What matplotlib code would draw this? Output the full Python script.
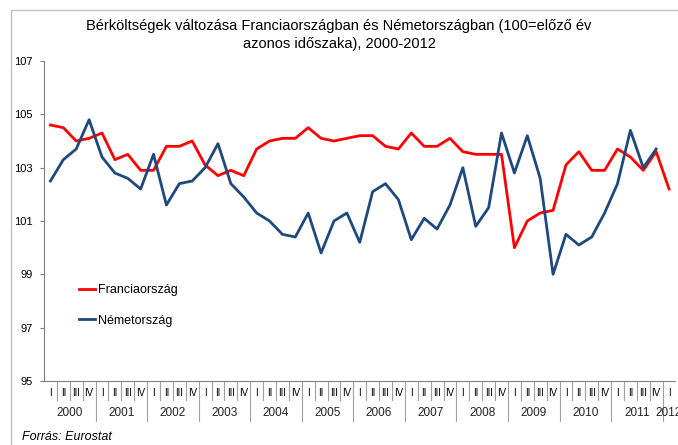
import matplotlib.pyplot as plt
from matplotlib.patches import Rectangle

# quarterly data, 2000 Q1 - 2012 Q1
years = ['2000', '2001', '2002', '2003', '2004', '2005', '2006',
         '2007', '2008', '2009', '2010', '2011', '2012']
quarters = ['I', 'II', 'III', 'IV']

france = [104.6, 104.5, 104.0, 104.1, 104.3, 103.3, 103.5, 102.9,
          102.9, 103.8, 103.8, 104.0, 103.1, 102.7, 102.9, 102.7,
          103.7, 104.0, 104.1, 104.1, 104.5, 104.1, 104.0, 104.1,
          104.2, 104.2, 103.8, 103.7, 104.3, 103.8, 103.8, 104.1,
          103.6, 103.5, 103.5, 103.5, 100.0, 101.0, 101.3, 101.4,
          103.1, 103.6, 102.9, 102.9, 103.7, 103.4, 102.9, 103.6,
          102.2]
germany = [102.5, 103.3, 103.7, 104.8, 103.4, 102.8, 102.6, 102.2,
           103.5, 101.6, 102.4, 102.5, 103.0, 103.9, 102.4, 101.9,
           101.3, 101.0, 100.5, 100.4, 101.3, 99.8, 101.0, 101.3,
           100.2, 102.1, 102.4, 101.8, 100.3, 101.1, 100.7, 101.6,
           103.0, 100.8, 101.5, 104.3, 102.8, 104.2, 102.6, 99.0,
           100.5, 100.1, 100.4, 101.3, 102.4, 104.4, 103.0, 103.7]

labels_q = []
for y in years:
    n = 1 if y == '2012' else 4
    labels_q += quarters[:n]
n = len(labels_q)

plt.rcParams['font.family'] = 'Liberation Sans'

fig = plt.figure(figsize=(6.78, 4.45), dpi=100)
ax = fig.add_axes([44 / 678, 1 - 381 / 445, 631.5 / 678, 320 / 445])

ax.plot(range(len(france)), france, color='#FF0000', lw=2.0, label='Franciaország')
ax.plot(range(len(germany)), germany, color='#1F497D', lw=2.0, label='Németország')

ax.set_xlim(-0.5, n - 0.5)
ax.set_ylim(95, 107)
ax.set_yticks(range(95, 108, 2))
ax.tick_params(axis='y', length=3, width=0.8, color='#808080', labelsize=8, pad=5)

for s in ['top', 'right']:
    ax.spines[s].set_visible(False)
ax.spines['left'].set_color('#808080')
ax.spines['bottom'].set_color('#808080')

# quarter labels at category centres
ax.set_xticks(range(n))
ax.set_xticklabels(labels_q, fontsize=7)
ax.tick_params(axis='x', length=0, pad=5)

# separators
tr = ax.get_xaxis_transform()
pos = 0
year_bounds = [-0.5]
for y in years:
    k = 1 if y == '2012' else 4
    year_bounds.append(pos + k - 0.5)
    ax.text(pos + (k - 1) / 2, -0.1, y, transform=tr, ha='center', va='center',
            fontsize=8.5, color='#222222')
    pos += k
for b in [i + 0.5 for i in range(n - 1)]:
    if b in year_bounds:
        ax.plot([b, b], [0, -0.125], transform=tr, color='#A0A0A0', lw=0.8, clip_on=False)
    else:
        ax.plot([b, b], [0, -0.06], transform=tr, color='#A0A0A0', lw=0.8, clip_on=False)

ax.legend(loc='lower left', bbox_to_anchor=(0.037, 0.134), frameon=False, fontsize=9,
          handlelength=1.3, handletextpad=0.25, labelspacing=1.5)

fig.text(0.5, 1 - 35 / 445,
         'Bérköltségek változása Franciaországban és Németországban (100=előző év\n'
         'azonos időszaka), 2000-2012',
         ha='center', va='center', fontsize=10.5, linespacing=1.45)
fig.text(22 / 678, 1 - 437 / 445, 'Forrás: Eurostat', ha='left', va='center',
         fontsize=9, style='italic')

fig.patches.append(Rectangle((10.5 / 678, -0.1), 1.2, 1 - 10 / 445 + 0.1,
                             transform=fig.transFigure, fill=False,
                             edgecolor='#C0C0C0', lw=1))

fig.savefig('out.png', dpi=100)
